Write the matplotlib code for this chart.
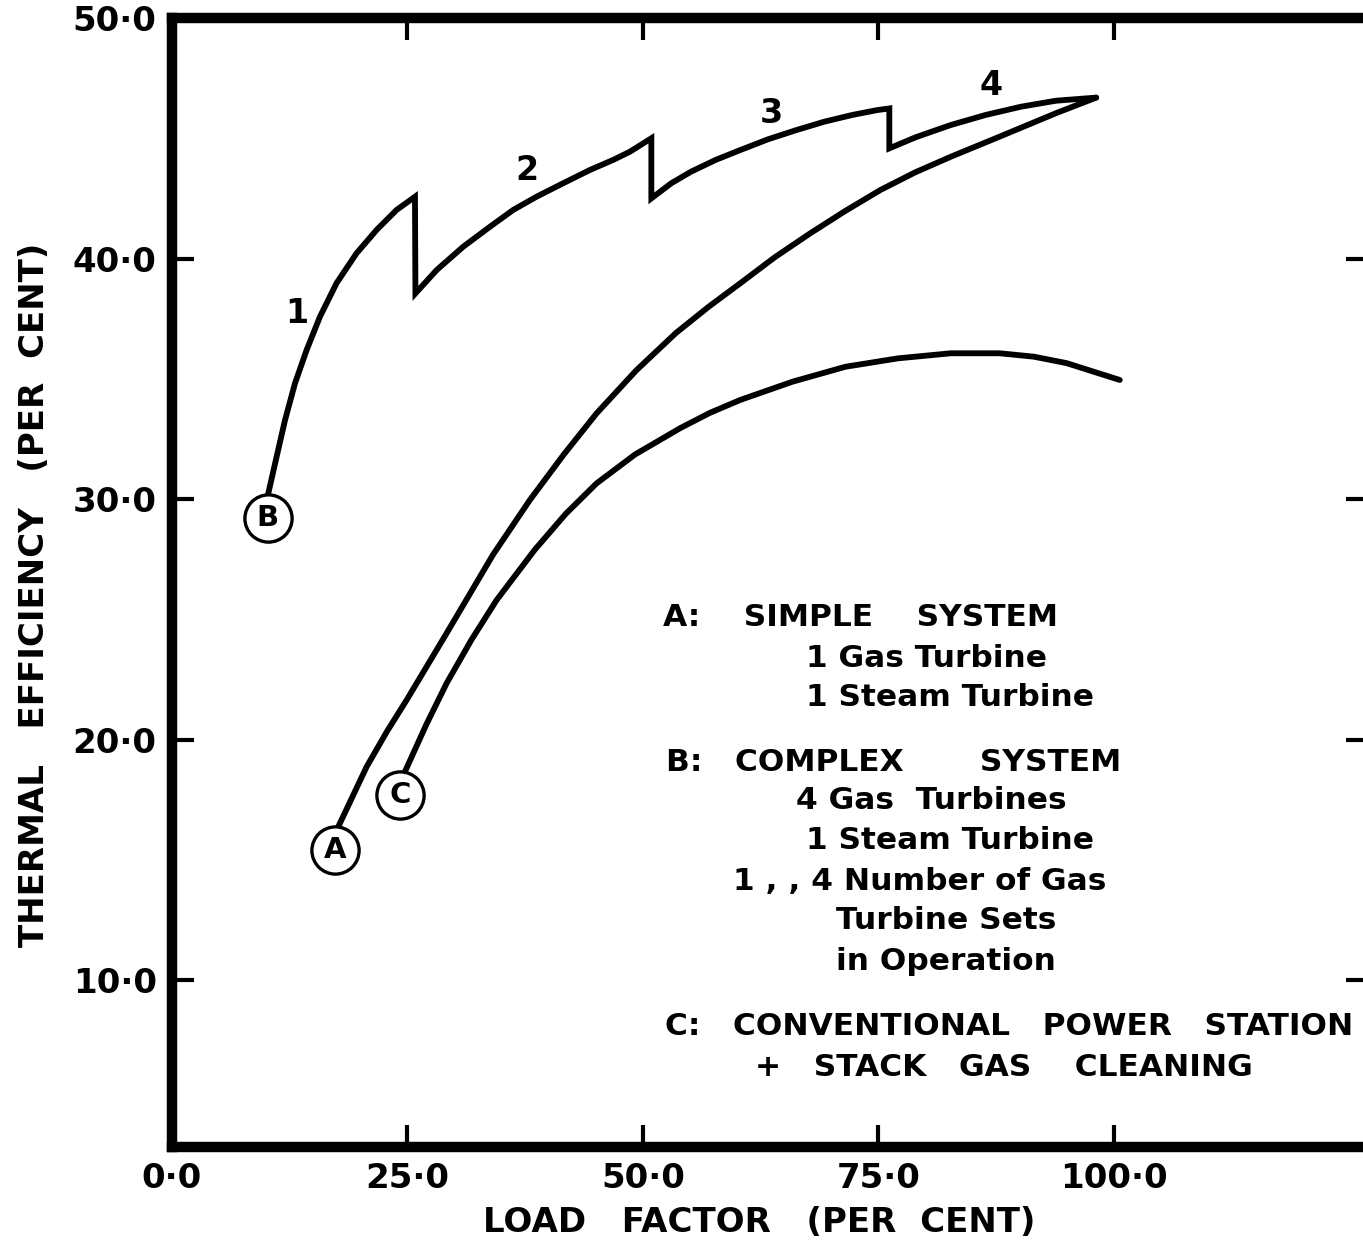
import matplotlib
matplotlib.use("Agg")
import matplotlib.pyplot as plt

# ---- data (load factor %, thermal efficiency %) ----
# curve B: complex system, sawtooth with one segment per number of gas turbines
b_load = [10.22, 11.11, 12.00, 13.06, 14.30, 15.71, 17.48, 19.60, 21.73, 23.85, 25.80,
          25.85, 28.10, 30.92, 33.76, 36.23, 38.71, 41.54, 44.37, 46.85, 48.62, 50.90,
          50.90, 53.02, 55.11, 57.73, 60.34, 63.31, 66.30, 69.28, 72.25, 74.86, 76.17,
          76.17, 78.96, 82.69, 86.41, 90.13, 93.85, 98.14]
b_eff = [30.23, 31.76, 33.28, 34.81, 36.20, 37.58, 38.98, 40.22, 41.19, 42.02, 42.57,
         38.55, 39.52, 40.49, 41.32, 42.02, 42.57, 43.13, 43.68, 44.10, 44.44, 45.00,
         42.50, 43.13, 43.61, 44.10, 44.51, 44.96, 45.34, 45.69, 45.97, 46.17, 46.24,
         44.58, 45.04, 45.55, 45.97, 46.31, 46.56, 46.69]

# curve A: simple system
a_load = [17.65, 20.67, 22.80, 24.91, 29.16, 34.11, 38.00, 41.60, 45.08, 49.30, 53.50,
          57.00, 60.34, 64.00, 67.78, 71.50, 75.23, 78.90, 82.69, 87.90, 93.85, 98.14]
a_eff = [16.37, 18.87, 20.32, 21.64, 24.42, 27.70, 29.96, 31.85, 33.56, 35.35, 36.90,
         38.00, 38.97, 40.05, 41.05, 41.98, 42.85, 43.58, 44.23, 45.07, 46.04, 46.69]

# curve C: conventional power station + stack gas cleaning
c_load = [24.73, 27.00, 29.16, 31.80, 34.47, 38.50, 41.80, 45.08, 49.16, 53.93, 57.10,
          60.34, 65.90, 71.51, 77.10, 82.69, 87.90, 91.50, 95.00, 100.64]
c_eff = [18.66, 20.62, 22.34, 24.15, 25.80, 27.88, 29.38, 30.65, 31.85, 32.94, 33.58,
         34.12, 34.88, 35.50, 35.85, 36.06, 36.06, 35.92, 35.65, 34.95]

# circled curve letters
end_letters = ["A", "B", "C"]
end_load = [17.30, 10.16, 24.20]
end_eff = [15.41, 29.20, 17.69]

# gas turbine count labels on curve B
set_labels = ["1", "2", "3", "4"]
set_load = [13.24, 37.65, 63.68, 86.97]
set_eff = [37.72, 43.68, 46.04, 47.21]

x_ticks = [0, 25, 50, 75, 100]
x_tick_labels = ["0·0", "25·0", "50·0", "75·0", "100·0"]
y_ticks = [10, 20, 30, 40, 50]
y_tick_labels = ["10·0", "20·0", "30·0", "40·0", "50·0"]

W, H = 1363, 1243
plt.rcParams["font.family"] = ["DejaVu Sans"]
plt.rcParams["font.weight"] = "bold"

fig = plt.figure(figsize=(W / 100, H / 100), dpi=100)
# left spine at x=172px, bottom at y=1147px, right spine just outside the picture
ax = fig.add_axes([172 / W, (H - 1147) / H, 1196 / W, 1129 / H])
ax.set_xlim(0, 127.0)
ax.set_ylim(3.06, 50)

for side in ax.spines.values():
    side.set_linewidth(7.5)
    side.set_color("black")

line_kw = dict(color="black", lw=4.2, solid_capstyle="round", solid_joinstyle="round")
ax.plot(b_load, b_eff, **{**line_kw, "solid_joinstyle": "miter"})
ax.plot(a_load, a_eff, **line_kw)
ax.plot(c_load, c_eff, **line_kw)

for letter, lx, ly in zip(end_letters, end_load, end_eff):
    ax.plot(lx, ly, marker="o", ms=34, mfc="white", mec="black", mew=2.4, zorder=5)
    ax.text(lx, ly, letter, ha="center", va="center", fontsize=21, fontweight="bold",
            zorder=6)

for lab, lx, ly in zip(set_labels, set_load, set_eff):
    ax.text(lx, ly, lab, ha="center", va="center", fontsize=24, fontweight="bold")

ax.set_xticks(x_ticks)
ax.set_xticklabels(x_tick_labels)
ax.set_yticks(y_ticks)
ax.set_yticklabels(y_tick_labels)
ax.tick_params(direction="in", length=16, width=3, top=True, right=True,
               labelsize=24.5, pad=11)

# explanatory key, one text per line
key_lines = [
    (52.1, 25.06, "A:    SIMPLE    SYSTEM"),
    (67.3, 23.36, "1 Gas Turbine"),
    (67.3, 21.74, "1 Steam Turbine"),
    (52.5, 19.05, "B:   COMPLEX       SYSTEM"),
    (66.3, 17.47, "4 Gas  Turbines"),
    (67.3, 15.81, "1 Steam Turbine"),
    (59.6, 14.11, "1 , , 4 Number of Gas"),
    (70.5, 12.49, "Turbine Sets"),
    (70.5, 10.79, "in Operation"),
    (52.4, 8.05, "C:   CONVENTIONAL   POWER   STATION"),
    (61.9, 6.35, "+   STACK   GAS    CLEANING"),
]
for kx, ky, txt in key_lines:
    ax.text(kx, ky, txt, ha="left", va="center", fontsize=22.5, fontweight="bold")

fig.text(35 / W, 1 - 595 / H, "THERMAL   EFFICIENCY   (PER  CENT)", rotation=90,
         ha="center", va="center", fontsize=24.5, fontweight="bold")
fig.text(759 / W, 1 - 1222 / H, "LOAD   FACTOR   (PER  CENT)",
         ha="center", va="center", fontsize=24.5, fontweight="bold")

fig.savefig("out.png", dpi=100, facecolor="white")
